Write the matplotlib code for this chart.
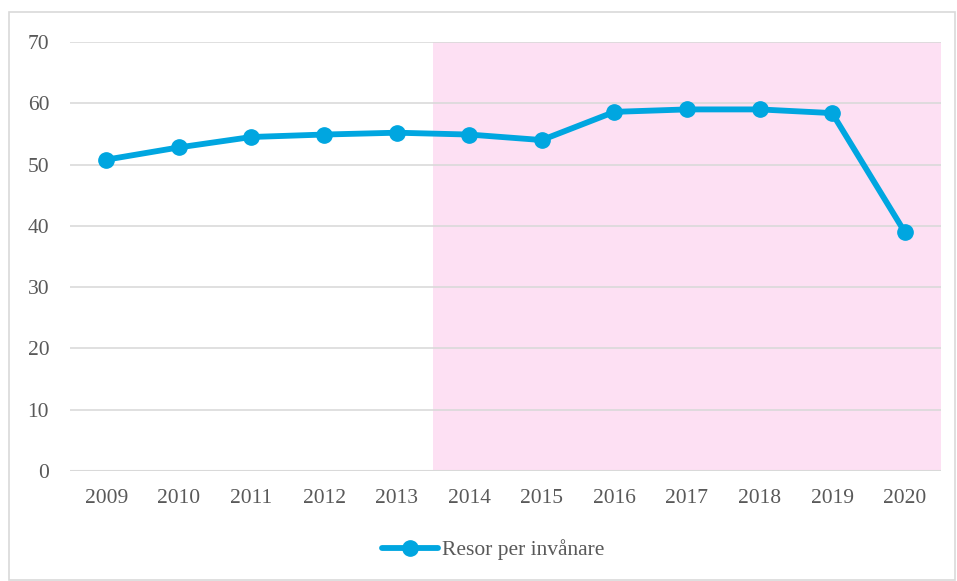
import matplotlib
matplotlib.use("Agg")
import matplotlib.pyplot as plt
from matplotlib.patches import Rectangle

years = ["2009", "2010", "2011", "2012", "2013", "2014", "2015", "2016", "2017", "2018", "2019", "2020"]
resor = [50.8, 52.8, 54.5, 54.9, 55.2, 54.9, 54.0, 58.6, 59.0, 59.0, 58.4, 39.0]
yticks = [0, 10, 20, 30, 40, 50, 60, 70]
shade_start = "2014"

plt.rcParams['font.family'] = ['Liberation Serif', 'DejaVu Serif']
txt = '#595959'

fig = plt.figure(figsize=(9.57, 5.81), dpi=100)
fig.patches.append(Rectangle((9/957, 0.002), (955-9)/957, 1-12/581-0.002, transform=fig.transFigure,
                             fill=False, edgecolor='#D9D9D9', linewidth=1.2))
ax = fig.add_axes([70/957, 1-471/581, (941-70)/957, (471-42)/581])

x = list(range(len(years)))
i0 = years.index(shade_start)
ax.axvspan(i0 - 0.5, len(years) - 0.5, color='#FDE0F3', zorder=0, linewidth=0)
for t in yticks[1:]:
    ax.axhline(t, color='#D9D9D9', linewidth=1.3, zorder=1, alpha=0.9)
ax.axhline(0, color='#D9D9D9', linewidth=1.5, zorder=1)

ax.plot(x, resor, color='#00A6E0', linewidth=4.2, marker='o', markersize=11,
        zorder=3, label='Resor per invånare', solid_capstyle='round')

ax.set_xlim(-0.5, len(years) - 0.5)
ax.set_ylim(0, 70)
ax.set_xticks(x)
ax.set_xticklabels(years)
ax.set_yticks(yticks)
ax.tick_params(axis='both', length=0, labelsize=15.5, colors=txt)
ax.tick_params(axis='x', pad=13)
ax.tick_params(axis='y', pad=15)
for s in ax.spines.values():
    s.set_visible(False)

leg = fig.legend(loc='center', bbox_to_anchor=(493/957, 1-550/581), frameon=False,
                 fontsize=15.5, handlelength=2.6, handletextpad=0.2, labelcolor=txt)

fig.savefig('out.png', dpi=100)
